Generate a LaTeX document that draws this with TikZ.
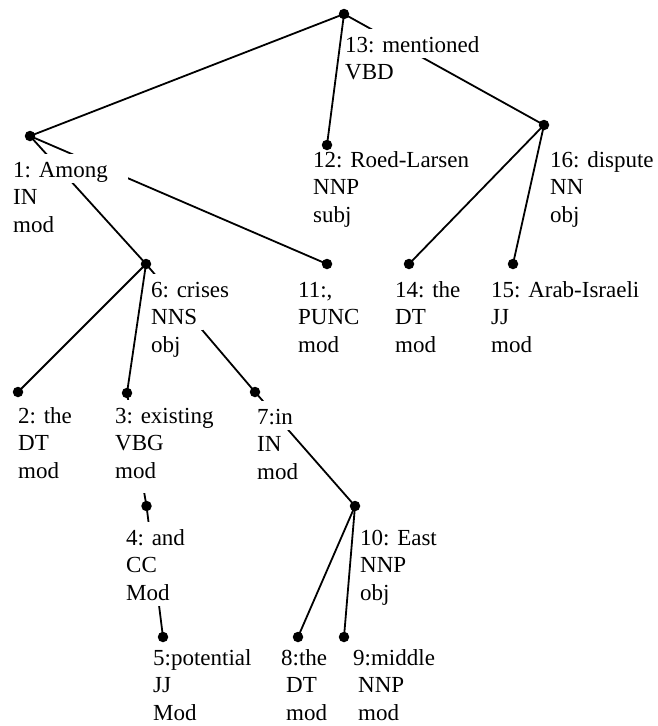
\documentclass[tikz,border=0pt]{standalone}
\usepackage{fontspec}
\setmainfont{Liberation Serif}
\pgfdeclarelayer{edges}
\pgfdeclarelayer{labels}
\pgfsetlayers{edges,labels,main}
\newsavebox\rowbox
% one text row on its own white backing strip (optional arg: depth of the strip)
\newcommand\rowtext[2][5.5pt]{\sbox\rowbox{#2}%
  \smash{\rlap{\color{white}\rule[-#1]{\dimexpr\wd\rowbox+6pt\relax}{\dimexpr 23pt+#1\relax}}}%
  \rule{0pt}{18pt}\usebox\rowbox}
\begin{document}
\begin{tikzpicture}[x=1pt,y=-1pt,
  dot/.style={circle,fill=black,inner sep=0pt,minimum size=10.5pt},
  lbl/.style={anchor=north west,inner sep=0pt,align=left,
              font=\fontsize{23}{27.6}\selectfont},
  edge/.style={line width=1.8pt,black}]
\useasboundingbox (0,0) rectangle (657,726);

% word nodes (dots)
\node[dot] (d13) at (344,14) {};
\node[dot] (d1)  at (30,136) {};
\node[dot] (d12) at (327,145) {};
\node[dot] (d16) at (544,125) {};
\node[dot] (d6)  at (146,264) {};
\node[dot] (d11) at (327,264) {};
\node[dot] (d14) at (409,264) {};
\node[dot] (d15) at (513,264) {};
\node[dot] (d2)  at (18,392) {};
\node[dot] (d3)  at (127,393) {};
\node[dot] (d7)  at (255,392) {};
\node[dot] (d4)  at (146.5,506) {};
\node[dot] (d10) at (355,506) {};
\node[dot] (d5)  at (163,637) {};
\node[dot] (d8)  at (298,637) {};
\node[dot] (d9)  at (344,637) {};

% dependency edges
\begin{pgfonlayer}{edges}
\draw[edge] (d13.center) -- (d1.center);
\draw[edge] (d13.center) -- (d12.center);
\draw[edge] (d13.center) -- (d16.center);
\draw[edge] (d1.center) -- (d6.center);
\draw[edge] (d1.center) -- (d11.center);
\draw[edge] (d16.center) -- (d14.center);
\draw[edge] (d16.center) -- (d15.center);
\draw[edge] (d6.center) -- (d2.center);
\draw[edge] (d6.center) -- (d3.center);
\draw[edge] (d6.center) -- (d7.center);
\draw[edge] (d3.center) -- (d4.center);
\draw[edge] (d4.center) -- (d5.center);
\draw[edge] (d7.center) -- (d10.center);
\draw[edge] (d10.center) -- (d8.center);
\draw[edge] (d10.center) -- (d9.center);
\end{pgfonlayer}

% word labels
\begin{pgfonlayer}{labels}
\node[lbl] (t13) at (345,34)  {\rowtext{13: mentioned}\\\rowtext{VBD}};
\node[lbl] (t12) at (313,149) {\rowtext{12: Roed-Larsen}\\\rowtext{NNP}\\\rowtext{subj}};
\node[lbl] (t16) at (550,149) {\rowtext{16: dispute}\\\rowtext{NN}\\\rowtext{obj}};
\node[lbl] (t1)  at (13,159)  {\rowtext{1: Among\hspace{14pt}}\\\rowtext{IN}\\\rowtext{mod}};
\node[lbl] (t6)  at (151,279) {\rowtext{6: crises}\\\rowtext{NNS}\\\rowtext{obj}};
\node[lbl] (t11) at (298,279) {\rowtext{11:,}\\\rowtext{PUNC}\\\rowtext{mod}};
\node[lbl] (t14) at (395,279) {\rowtext{14: the}\\\rowtext{DT}\\\rowtext{mod}};
\node[lbl] (t15) at (491,279) {\rowtext{15: Arab-Israeli}\\\rowtext{JJ}\\\rowtext{mod}};
\node[lbl] (t2)  at (18,405)  {\rowtext{2: the}\\\rowtext{DT}\\\rowtext{mod}};
\node[lbl] (t3)  at (115,405) {\rowtext{3: existing}\\\rowtext{VBG}\\\rowtext[15pt]{mod}};
\node[lbl] (t7)  at (257,406) {\rowtext{7:in}\\\rowtext{IN}\\\rowtext{mod}};
\node[lbl] (t4)  at (126,527) {\rowtext{4: and}\\\rowtext{CC}\\\rowtext{Mod}};
\node[lbl] (t10) at (360,527) {\rowtext{10: East}\\\rowtext{NNP}\\\rowtext{obj}};
\node[lbl] (t5)  at (153,647) {\rowtext{5:potential}\\\rowtext{JJ}\\\rowtext{Mod}};
\node[lbl] (t8)  at (281,647) {\rowtext{8:the}\\\rowtext{\hspace{5pt}DT}\\\rowtext{\hspace{5pt}mod}};
\node[lbl] (t9)  at (353,647) {\rowtext{9:middle}\\\rowtext{\hspace{5pt}NNP}\\\rowtext{\hspace{5pt}mod}};
\end{pgfonlayer}
\end{tikzpicture}
\end{document}
